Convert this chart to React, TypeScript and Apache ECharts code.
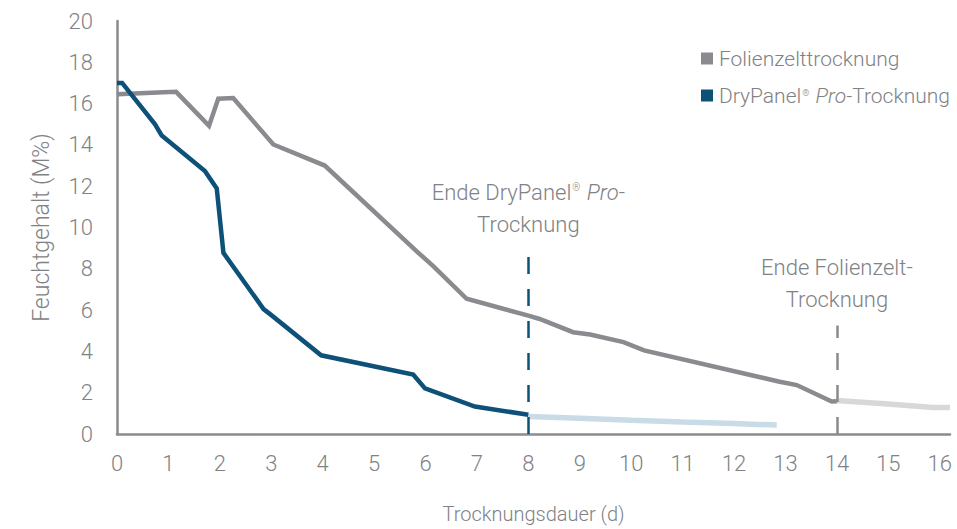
import React, { useEffect, useRef } from "react";
import * as echarts from "echarts";

const xTicks = [0, 16.2];
const yTicks = [0, 20];
const legendNames = ["Folienzelttrocknung", "DryPanel® Pro-Trocknung"];

const folienzelt: number[][] = [
  [0, 16.45], [0.9, 16.55], [1.15, 16.57], [1.79, 14.93], [1.97, 16.24], [2.26, 16.27],
  [3.04, 14.02], [4.04, 13.0], [5.85, 8.8], [6.15, 8.13], [6.8, 6.55], [8.0, 5.73],
  [8.22, 5.57], [8.87, 4.93], [9.2, 4.82], [9.85, 4.45], [10.25, 4.05], [12.89, 2.53],
  [13.22, 2.37], [13.9, 1.57], [14, 1.58],
];
const folienzeltExt: number[][] = [[14, 1.62], [15, 1.45], [15.87, 1.28], [16.2, 1.28]];

const dryPanel: number[][] = [
  [0, 17.0], [0.1, 17.0], [0.74, 15.0], [0.87, 14.45], [1.71, 12.74], [1.94, 11.89],
  [2.07, 8.77], [2.85, 6.05], [3.02, 5.72], [3.97, 3.81], [5.76, 2.88], [5.99, 2.21],
  [6.96, 1.33], [8, 0.93],
];
const dryPanelExt: number[][] = [[8, 0.85], [9, 0.76], [10, 0.66], [11, 0.58], [12, 0.51], [12.83, 0.43]];

const dryEnd = { x: 8, top: 8.96 };
const folEnd = { x: 14, top: 5.25 };

const TEXT = "#808285";
const GRAY = "#898b8e";
const BLUE = "#0d5179";
const LIGHT_GRAY = "#d7d8d9";
const LIGHT_BLUE = "#c9dbe6";
const FONT = "Roboto";

const richBase = (size: number, lh: number) => ({
  a: { fontFamily: FONT, fontWeight: 300, fontSize: size, color: TEXT, lineHeight: lh },
  i: { fontFamily: FONT, fontWeight: 300, fontStyle: "italic", fontSize: size, color: TEXT, lineHeight: lh },
  s: { fontFamily: FONT, fontWeight: 300, fontSize: Math.round(size * 0.45), color: TEXT, lineHeight: lh, verticalAlign: "top", padding: [Math.round(lh * 0.18), 1, 0, 1] },
});

export default function App() {
  const ref = useRef<HTMLDivElement>(null);
  useEffect(() => {
    if (!ref.current) return;
    const chart = echarts.init(ref.current, null, { renderer: "svg" });
    const labelStyle = { fontFamily: FONT, fontWeight: 300, fontSize: 22, color: TEXT };
    chart.setOption({
      animation: false,
      grid: { left: 117, right: 7, top: 21, bottom: 93 },
      legend: {
        orient: "vertical",
        left: 696,
        top: 43,
        icon: "rect",
        itemWidth: 12,
        itemHeight: 12,
        itemGap: 15,
        data: legendNames,
        selectedMode: false,
        formatter: (name: string) =>
          name === legendNames[1]
            ? "{a|DryPanel}{s|®}{a| }{i|Pro}{a|-Trocknung}"
            : "{a|" + name + "}",
        textStyle: { padding: [0, 0, 0, 1], rich: richBase(21, 23) },
      },
      xAxis: {
        type: "value",
        min: xTicks[0],
        max: xTicks[1],
        interval: 1,
        name: "Trocknungsdauer (d)",
        nameLocation: "middle",
        nameGap: 70,
        nameTextStyle: { ...labelStyle, fontSize: 20 },
        axisLine: { show: true, lineStyle: { color: GRAY, width: 2.5 } },
        axisTick: { show: false },
        splitLine: { show: false },
        axisLabel: { ...labelStyle, margin: 18, showMaxLabel: false, formatter: (v: number) => (Number.isInteger(v) ? String(v) : "") },
      },
      yAxis: {
        type: "value",
        min: yTicks[0],
        max: yTicks[1],
        interval: 2,
        name: "Feuchtgehalt (M%)",
        nameLocation: "middle",
        nameGap: 64,
        nameTextStyle: { ...labelStyle, fontSize: 23 },
        axisLine: { show: true, lineStyle: { color: GRAY, width: 2.5 } },
        axisTick: { show: false },
        splitLine: { show: false },
        axisLabel: { ...labelStyle, margin: 24 },
      },
      series: [
        {
          name: legendNames[0],
          type: "line",
          data: folienzelt,
          showSymbol: false,
          symbol: "none",
          color: GRAY,
          itemStyle: { color: GRAY },
          lineStyle: { color: GRAY, width: 4.5, join: "miter" },
          z: 3,
          silent: true,
          markLine: {
            silent: true,
            symbol: ["none", "none"],
            lineStyle: { color: GRAY, width: 2.5, type: [17, 15] },
            label: {
              show: true,
              position: "end",
              distance: 10,
              formatter: "{a|Ende Folienzelt-}\n{a|Trocknung}",
              rich: richBase(22, 32),
            },
            data: [[{ coord: [folEnd.x, 0] }, { coord: [folEnd.x, folEnd.top] }]],
          },
        },
        {
          name: "Folienzelt-ext",
          type: "line",
          data: folienzeltExt,
          showSymbol: false,
          symbol: "none",
          lineStyle: { color: LIGHT_GRAY, width: 5.5 },
          z: 2,
          silent: true,
        },
        {
          name: legendNames[1],
          type: "line",
          data: dryPanel,
          showSymbol: false,
          symbol: "none",
          color: BLUE,
          itemStyle: { color: BLUE },
          lineStyle: { color: BLUE, width: 4.5, join: "miter" },
          z: 4,
          silent: true,
          markLine: {
            silent: true,
            symbol: ["none", "none"],
            lineStyle: { color: BLUE, width: 2.5, type: [17, 15] },
            label: {
              show: true,
              position: "end",
              distance: 8,
              formatter: "{a|Ende DryPanel}{s|®}{a| }{i|Pro}{a|-}\n{a|Trocknung}",
              rich: richBase(22, 32),
            },
            data: [[{ coord: [dryEnd.x, 0] }, { coord: [dryEnd.x, dryEnd.top] }]],
          },
        },
        {
          name: "DryPanel-ext",
          type: "line",
          data: dryPanelExt,
          showSymbol: false,
          symbol: "none",
          lineStyle: { color: LIGHT_BLUE, width: 5.5 },
          z: 2,
          silent: true,
        },
      ],
    });
    return () => chart.dispose();
  }, []);
  return <div ref={ref} style={{ width: 957, height: 529, position: "absolute", left: 0, top: 0 }} />;
}
